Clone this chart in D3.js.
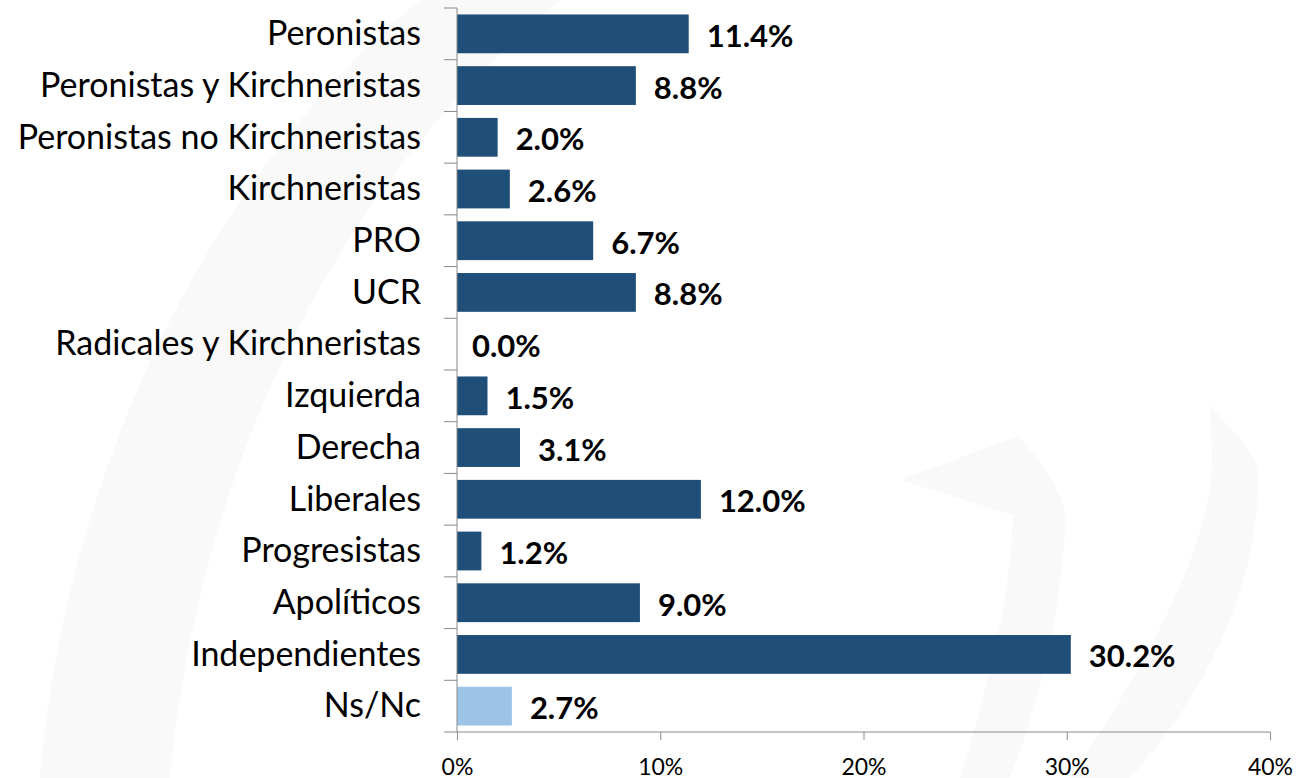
<!DOCTYPE html>
<html lang="en">
<head>
    <meta charset="utf-8">
    <script src="https://cdn.jsdelivr.net/npm/d3@7"></script>
    <style>
        body { margin: 0; background: #fff; }
        text { font-family: Lato, "Open Sans", sans-serif; }
    </style>
</head>
<body>
    <svg width="1299" height="778"></svg>
    <script>
        var categories = [
            "Peronistas",
            "Peronistas y Kirchneristas",
            "Peronistas no Kirchneristas",
            "Kirchneristas",
            "PRO",
            "UCR",
            "Radicales y Kirchneristas",
            "Izquierda",
            "Derecha",
            "Liberales",
            "Progresistas",
            "Apolíticos",
            "Independientes",
            "Ns/Nc"
        ];
        var values = [11.4, 8.8, 2.0, 2.6, 6.7, 8.8, 0.0, 1.5, 3.1, 12.0, 1.2, 9.0, 30.2, 2.7];
        var xTicks = [0, 10, 20, 30, 40];

        var svg = d3.select("svg"),
            plotLeft = 457, plotRight = 1270,
            plotTop = 8, plotBottom = 732;

        // faint watermark in the background
        var wm = svg.append("g").attr("fill", "#f9f9f9");
        wm.append("path").attr("d", "M40,778 C60,520 180,200 420,0 L560,0 C330,190 200,470 170,778 Z");
        wm.append("path").attr("d", "M900,480 L1018,436 C1050,470 1065,500 1066,520 C1060,620 1040,700 1010,778 L960,778 C990,680 1010,600 1013,515 Z");
        wm.append("path").attr("d", "M1210,405 C1230,430 1255,450 1258,470 C1262,560 1220,680 1130,778 L1070,778 C1150,660 1215,540 1212,450 Z");

        var x = d3.scaleLinear().domain([0, 40]).range([plotLeft, plotRight]);
        var y = d3.scaleBand().domain(categories).range([plotTop, plotBottom]).paddingInner(0.25).paddingOuter(0.125);

        // bars
        svg.append("g")
            .selectAll("rect")
            .data(values)
            .enter().append("rect")
            .attr("x", x(0))
            .attr("y", function(d, i) { return y(categories[i]); })
            .attr("width", function(d) { return x(d) - x(0); })
            .attr("height", y.bandwidth())
            .attr("fill", function(d, i) { return categories[i] === "Ns/Nc" ? "#9dc3e6" : "#1f4e79"; });

        // value labels
        svg.append("g")
            .selectAll("text")
            .data(values)
            .enter().append("text")
            .attr("x", function(d) { return x(d) + (d === 0 ? 15 : 18); })
            .attr("y", function(d, i) { return y(categories[i]) + y.bandwidth() / 2 + 13; })
            .attr("font-size", "31px")
            .attr("font-weight", "bold")
            .attr("fill", "#000")
            .text(function(d) { return d.toFixed(1) + "%"; });

        // y axis
        var yAxis = svg.append("g")
            .attr("transform", "translate(" + plotLeft + ",0)")
            .call(d3.axisLeft(y).tickSize(0).tickPadding(36));
        yAxis.select(".domain").attr("stroke", "#898989").attr("d", "M0," + plotTop + "V" + plotBottom);
        yAxis.selectAll("text").attr("font-size", "34px").attr("fill", "#000").attr("dy", "0.33em");

        // y tick marks between categories
        var yLines = d3.range(categories.length + 1).map(function(i) { return plotTop + i * y.step(); });
        svg.append("g").selectAll("line")
            .data(yLines)
            .enter().append("line")
            .attr("x1", plotLeft - 13).attr("x2", plotLeft)
            .attr("y1", function(d) { return d; }).attr("y2", function(d) { return d; })
            .attr("stroke", "#898989");

        // x axis
        var xAxis = svg.append("g")
            .attr("transform", "translate(0," + plotBottom + ")")
            .call(d3.axisBottom(x).tickValues(xTicks).tickSize(8).tickPadding(19)
                .tickFormat(function(d) { return d + "%"; }));
        xAxis.select(".domain").attr("stroke", "#898989").attr("d", "M" + plotLeft + ",0H" + plotRight);
        xAxis.selectAll("line").attr("stroke", "#898989");
        xAxis.selectAll("text").attr("font-size", "23px").attr("fill", "#000");
    </script>
</body>
</html>
